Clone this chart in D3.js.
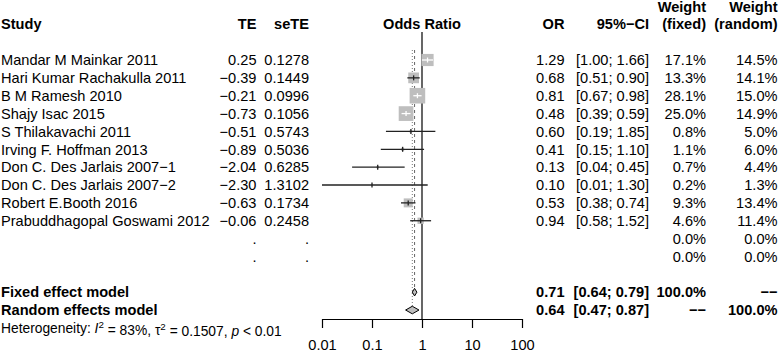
<!DOCTYPE html>
<html>
<head>
<meta charset="utf-8">
<script src="https://cdn.jsdelivr.net/npm/d3@7"></script>
<style>
  html, body { margin: 0; padding: 0; background: #fff; }
  svg { display: block; }
  text { font-family: "Liberation Sans", Arial, Helvetica, sans-serif; fill: #000; }
</style>
</head>
<body>
<svg id="chart" width="778" height="352"></svg>
<script>
// ---------- data ----------
const studies = ["Mandar M Mainkar 2011","Hari Kumar Rachakulla 2011","B M Ramesh 2010","Shajy Isac 2015",
  "S Thilakavachi 2011","Irving F. Hoffman 2013","Don C. Des Jarlais 2007\u22121","Don C. Des Jarlais 2007\u22122",
  "Robert E.Booth 2016","Prabuddhagopal Goswami 2012"];
const teLabels   = ["0.25","\u22120.39","\u22120.21","\u22120.73","\u22120.51","\u22120.89","\u22122.04","\u22122.30","\u22120.63","\u22120.06"];
const seteLabels = ["0.1278","0.1449","0.0996","0.1056","0.5743","0.5036","0.6285","1.3102","0.1734","0.2458"];
const orValues   = [1.29, 0.68, 0.81, 0.48, 0.60, 0.41, 0.13, 0.10, 0.53, 0.94];
const ciLower    = [1.00, 0.51, 0.67, 0.39, 0.19, 0.15, 0.04, 0.01, 0.38, 0.58];
const ciUpper    = [1.66, 0.90, 0.98, 0.59, 1.85, 1.10, 0.45, 1.30, 0.74, 1.52];
const weightFixed  = [17.1, 13.3, 28.1, 25.0, 0.8, 1.1, 0.7, 0.2, 9.3, 4.6];
const weightRandom = [14.5, 14.1, 15.0, 14.9, 5.0, 6.0, 4.4, 1.3, 13.4, 11.4];
const emptyRows = 2; // rows shown as "." with 0.0% weights

const models      = ["Fixed effect model", "Random effects model"];
const modelOR     = [0.71, 0.64];
const modelLower  = [0.64, 0.47];
const modelUpper  = [0.79, 0.87];
const modelWFixed = ["100.0%", "\u2212\u2212"];
const modelWRand  = ["\u2212\u2212", "100.0%"];

const axisTicks = [0.01, 0.1, 1, 10, 100];
const axisTickLabels = ["0.01", "0.1", "1", "10", "100"];

// ---------- layout ----------
const svg = d3.select("#chart");
const FS = 14.6;
const x = d3.scaleLog().domain([0.01, 100]).range([322, 522]);
const row = d3.scaleLinear().domain([0, 15]).range([60, 60 + 15 * 17.86]);
const sq = d3.scaleSqrt().domain([0, 28.1]).range([0, 15.6]);
const fmt2 = d3.format(".2f");

const col = { study: 1, te: 256.5, sete: 309, or: 564.5, ci: 649, wf: 706, wr: 777.5 };

function txt(xp, yp, s, anchor, bold, size) {
  return svg.append("text")
    .attr("x", xp).attr("y", yp).attr("dy", "0.36em")
    .attr("text-anchor", anchor || "start")
    .style("font-size", (size || FS) + "px")
    .style("font-weight", bold ? "bold" : "normal")
    .text(s);
}

// headers
const hy = 24;
txt(col.study, hy, "Study", "start", true);
txt(col.te, hy, "TE", "end", true);
txt(col.sete, hy, "seTE", "end", true);
txt(x(1), hy, "Odds Ratio", "middle", true);
txt(col.or, hy, "OR", "end", true);
txt(col.ci, hy, "95%\u2212CI", "end", true);
txt(col.wf, 7, "Weight", "end", true);
txt(col.wf, hy, "(fixed)", "end", true);
txt(col.wr, 7, "Weight", "end", true);
txt(col.wr, hy, "(random)", "end", true);

// reference lines
svg.append("line").attr("x1", x(1)).attr("x2", x(1)).attr("y1", 32).attr("y2", 319)
  .attr("stroke", "#000").attr("stroke-width", 1.2);
svg.append("line").attr("x1", x(modelOR[0])).attr("x2", x(modelOR[0]))
  .attr("y1", row(0) - 10).attr("y2", row(13) - 3)
  .attr("stroke", "#666").attr("stroke-width", 1).attr("stroke-dasharray", "3,3");
svg.append("line").attr("x1", x(modelOR[1])).attr("x2", x(modelOR[1]))
  .attr("y1", row(0) - 10).attr("y2", row(14) - 4)
  .attr("stroke", "#777").attr("stroke-width", 1).attr("stroke-dasharray", "1,2");

// studies
studies.forEach((s, i) => {
  const y = row(i);
  txt(col.study, y, s);
  txt(col.te, y, teLabels[i], "end");
  txt(col.sete, y, seteLabels[i], "end");
  txt(col.or, y, fmt2(orValues[i]), "end");
  txt(col.ci, y, "[" + fmt2(ciLower[i]) + "; " + fmt2(ciUpper[i]) + "]", "end");
  txt(col.wf, y, weightFixed[i].toFixed(1) + "%", "end");
  txt(col.wr, y, weightRandom[i].toFixed(1) + "%", "end");

  const cx = x(orValues[i]);
  const side = sq(weightFixed[i]);
  svg.append("rect").attr("x", cx - side / 2).attr("y", y - side / 2)
    .attr("width", side).attr("height", side).attr("fill", "#bebebe");
  const inside = x(ciLower[i]) >= cx - side / 2 && x(ciUpper[i]) <= cx + side / 2;
  const lc = inside ? "#fff" : "#222";
  svg.append("line").attr("x1", x(ciLower[i])).attr("x2", x(ciUpper[i]))
    .attr("y1", y).attr("y2", y).attr("stroke", lc).attr("stroke-width", 1.3);
  svg.append("line").attr("x1", cx).attr("x2", cx).attr("y1", y - 2.5).attr("y2", y + 2.5)
    .attr("stroke", lc).attr("stroke-width", 1.3);
});

// empty rows
for (let k = 0; k < emptyRows; k++) {
  const y = row(studies.length + k);
  txt(col.te, y, ".", "end");
  txt(col.sete, y, ".", "end");
  txt(col.wf, y, "0.0%", "end");
  txt(col.wr, y, "0.0%", "end");
}

// models
models.forEach((m, j) => {
  const y = row(13 + j);
  txt(col.study, y, m, "start", true);
  txt(col.or, y, fmt2(modelOR[j]), "end", true);
  txt(col.ci, y, "[" + fmt2(modelLower[j]) + "; " + fmt2(modelUpper[j]) + "]", "end", true);
  txt(col.wf, y, modelWFixed[j], "end", true);
  txt(col.wr, y, modelWRand[j], "end", true);
  const h = 3.8;
  const pts = [[x(modelLower[j]), y], [x(modelOR[j]), y - h], [x(modelUpper[j]), y], [x(modelOR[j]), y + h]];
  svg.append("path").attr("d", d3.line()(pts) + "Z")
    .attr("fill", "#bebebe").attr("stroke", "#000").attr("stroke-width", 1);
});

// heterogeneity
const het = svg.append("text").attr("x", col.study).attr("y", row(15)).attr("dy", "0.36em")
  .style("font-size", "13.8px");
het.append("tspan").text("Heterogeneity: ");
het.append("tspan").style("font-style", "italic").text("I");
het.append("tspan").attr("dy", "-0.45em").style("font-size", "9.8px").text("2");
het.append("tspan").attr("dy", "0.45em").text(" = 83%, \u03c4");
het.append("tspan").attr("dy", "-0.45em").style("font-size", "9.8px").text("2");
het.append("tspan").attr("dy", "0.45em").text(" = 0.1507, ");
het.append("tspan").style("font-style", "italic").text("p");
het.append("tspan").text(" < 0.01");

// axis
const axis = d3.axisBottom(x).tickValues(axisTicks)
  .tickFormat((d, i) => axisTickLabels[i]).tickSize(9).tickSizeOuter(0).tickPadding(12);
const ag = svg.append("g").attr("transform", "translate(0,319)").call(axis);
ag.select(".domain").attr("stroke", "#000").attr("stroke-width", 1.2);
ag.selectAll(".tick line").attr("stroke", "#000").attr("stroke-width", 1.2);
ag.selectAll(".tick text").style("font-size", FS + "px").style("font-family", "'Liberation Sans', Arial, sans-serif").attr("fill", "#000");
</script>
</body>
</html>
